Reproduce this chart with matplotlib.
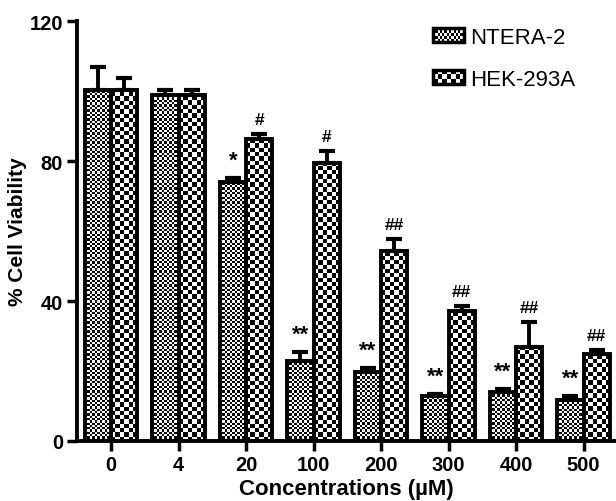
import numpy as np
import matplotlib
matplotlib.use('Agg')
import matplotlib.pyplot as plt
from matplotlib.patches import Rectangle
from matplotlib.legend_handler import HandlerPatch
from matplotlib.image import BboxImage
from matplotlib.transforms import Bbox, TransformedBbox

plt.rcParams['font.family'] = ['Liberation Sans', 'DejaVu Sans']

concentrations = ['0', '4', '20', '100', '200', '300', '400', '500']
ntera = [100.4, 98.9, 74.1, 22.8, 19.6, 12.8, 14.1, 11.7]
ntera_err = [6.4, 1.5, 1.0, 2.7, 1.4, 0.6, 0.8, 1.2]
hek = [100.4, 98.9, 86.3, 79.4, 54.2, 37.1, 26.9, 24.9]
hek_err = [3.3, 1.5, 1.4, 3.5, 3.5, 1.6, 7.0, 1.2]
ntera_marks = ['', '', '*', '**', '**', '**', '**', '**']
hek_marks = ['', '', '#', '#', '##', '##', '##', '##']


def checker(nrows, ncols):
    return np.indices((nrows, ncols)).sum(0) % 2


def fill_checker(ax, patch, cell_px):
    x0, y0 = patch.get_x(), patch.get_y()
    w, h = patch.get_width(), patch.get_height()
    (px0, py0), (px1, py1) = ax.transData.transform([(x0, y0), (x0 + w, y0 + h)])
    ncols = max(1, int(round((px1 - px0) / cell_px)))
    nrows = int(np.ceil((py1 - py0) / cell_px))
    dy = cell_px * h / (py1 - py0)
    im = ax.imshow(checker(nrows, ncols), cmap='gray', vmin=0, vmax=1,
                   interpolation='nearest', origin='lower', aspect='auto',
                   extent=(x0, x0 + w, y0, y0 + nrows * dy), zorder=0.5)
    im.set_clip_path(patch)


class CheckerHandler(HandlerPatch):
    def __init__(self, cell, **kw):
        super().__init__(**kw)
        self.cell = cell

    def create_artists(self, legend, orig_handle, xdescent, ydescent,
                       width, height, fontsize, trans):
        bb = TransformedBbox(Bbox.from_bounds(-xdescent, -ydescent, width, height), trans)
        img = BboxImage(bb, cmap='gray', interpolation='nearest', norm=plt.Normalize(0, 1))
        img.set_data(checker(self.cell[0], self.cell[1]))
        edge = Rectangle((-xdescent, -ydescent), width, height, facecolor='none',
                         edgecolor='black', linewidth=2.5, transform=trans)
        return [img, edge]


fig = plt.figure(figsize=(6.16, 5.02), dpi=100)
ax = fig.add_axes([77 / 616, 60 / 502, 539 / 616, 420 / 502])

x = np.arange(len(concentrations))
bw = 0.39
ax.set_xlim(-0.504, 7.48)
ax.set_ylim(0, 120)

b1 = ax.bar(x - bw / 2, ntera, bw, facecolor='none', edgecolor='black', linewidth=2.8, zorder=2)
b2 = ax.bar(x + bw / 2, hek, bw, facecolor='none', edgecolor='black', linewidth=2.8, zorder=2)
for p in b1:
    fill_checker(ax, p, 2.3)
for p in b2:
    fill_checker(ax, p, 4.3)

ax.errorbar(x - bw / 2, ntera, yerr=[np.zeros(len(x)), ntera_err], fmt='none',
            ecolor='black', elinewidth=2.8, capsize=6, capthick=3, zorder=1.5)
ax.errorbar(x + bw / 2, hek, yerr=[np.zeros(len(x)), hek_err], fmt='none',
            ecolor='black', elinewidth=2.8, capsize=6, capthick=3, zorder=1.5)

for i in range(len(x)):
    if ntera_marks[i]:
        ax.text(x[i] - bw / 2, ntera[i] + ntera_err[i] + 2.0, ntera_marks[i],
                ha='center', va='bottom', fontsize=16, fontweight='bold')
    if hek_marks[i]:
        ax.text(x[i] + bw / 2, hek[i] + hek_err[i] + 2.0, hek_marks[i],
                ha='center', va='bottom', fontsize=12.5, fontweight='bold')

ax.spines['top'].set_visible(False)
ax.spines['right'].set_visible(False)
ax.spines['left'].set_linewidth(2.8)
ax.spines['bottom'].set_linewidth(2.8)
ax.set_yticks([0, 40, 80, 120])
ax.set_xticks(x)
ax.set_xticklabels(concentrations)
ax.tick_params(width=2.5, length=7, labelsize=14.5, pad=3)
for lab in ax.get_xticklabels() + ax.get_yticklabels():
    lab.set_fontweight('bold')

ax.set_xlabel('Concentrations (\u00b5M)', fontsize=16, fontweight='bold', labelpad=3)
ax.set_ylabel('% Cell Viability', fontsize=15, fontweight='bold', va='center')
ax.yaxis.set_label_coords(-59 / 539, 0.5)

h1 = Rectangle((0, 0), 1, 1)
h2 = Rectangle((0, 0), 1, 1)
ax.legend([h1, h2], ['NTERA-2', 'HEK-293A'], loc='upper left',
          bbox_to_anchor=(433 / 616, 1 - 28 / 502), bbox_transform=fig.transFigure,
          frameon=False, fontsize=16, borderpad=0, borderaxespad=0,
          handlelength=1.4, handleheight=0.6, handletextpad=0.25, labelspacing=0.95,
          handler_map={h1: CheckerHandler((5, 14)), h2: CheckerHandler((3, 7))})

fig.savefig('out.png', dpi=100)
